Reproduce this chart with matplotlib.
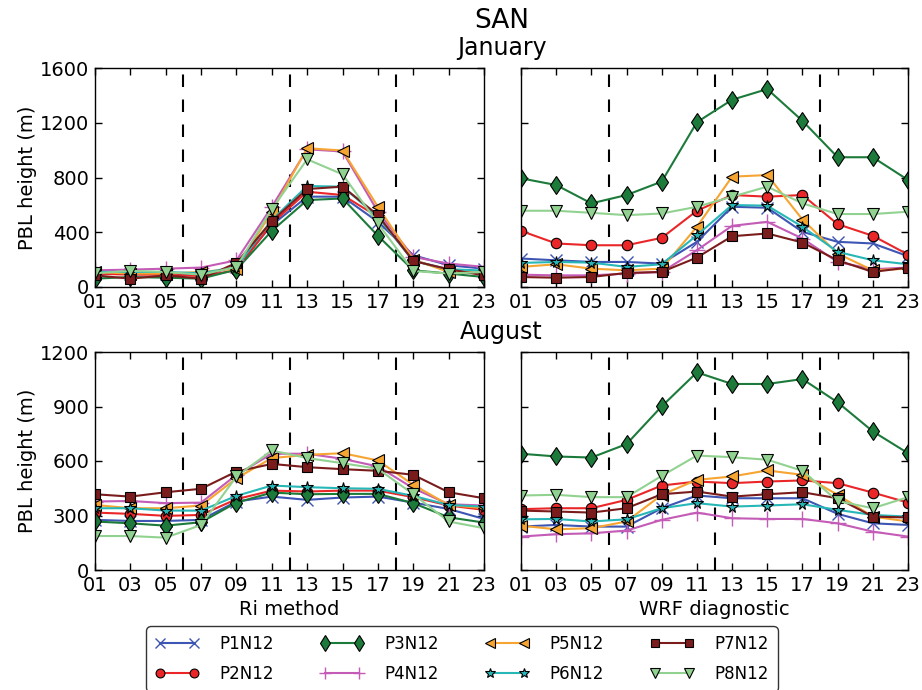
import matplotlib
matplotlib.use("Agg")
import matplotlib.pyplot as plt

hours = [1, 3, 5, 7, 9, 11, 13, 15, 17, 19, 21, 23]
hour_labels = ["01", "03", "05", "07", "09", "11", "13", "15", "17", "19", "21", "23"]
series_names = ["P1N12", "P2N12", "P3N12", "P4N12", "P5N12", "P6N12", "P7N12", "P8N12"]

# January, Ri method
jan_ri = {
    "P1N12": [98, 98, 98, 90, 147, 452, 660, 660, 476, 232, 159, 134],
    "P2N12": [98, 90, 90, 80, 122, 464, 696, 672, 513, 195, 122, 98],
    "P3N12": [61, 73, 68, 61, 127, 410, 635, 647, 374, 122, 98, 73],
    "P4N12": [122, 127, 134, 142, 195, 586, 1006, 990, 550, 220, 171, 147],
    "P5N12": [110, 98, 98, 110, 134, 550, 1014, 997, 586, 200, 110, 103],
    "P6N12": [110, 110, 110, 100, 147, 489, 738, 733, 513, 190, 130, 120],
    "P7N12": [85, 61, 85, 61, 176, 481, 716, 733, 525, 190, 130, 85],
    "P8N12": [100, 118, 110, 90, 147, 570, 933, 823, 464, 117, 98, 110],
}
# January, WRF diagnostic
jan_wrf = {
    "P1N12": [208, 195, 183, 183, 171, 330, 586, 579, 403, 330, 318, 225],
    "P2N12": [410, 318, 305, 305, 359, 557, 672, 660, 672, 459, 374, 237],
    "P3N12": [794, 745, 611, 672, 770, 1204, 1368, 1446, 1214, 948, 948, 782],
    "P4N12": [90, 85, 85, 98, 110, 269, 447, 476, 354, 183, 130, 142],
    "P5N12": [147, 166, 134, 122, 134, 440, 806, 818, 493, 244, 122, 134],
    "P6N12": [176, 183, 178, 147, 166, 379, 599, 594, 440, 257, 195, 166],
    "P7N12": [73, 68, 73, 103, 110, 215, 371, 391, 325, 195, 110, 142],
    "P8N12": [557, 557, 542, 525, 537, 586, 660, 733, 611, 533, 533, 550],
}
# August, Ri method
aug_ri = {
    "P1N12": [276, 270, 270, 276, 377, 404, 386, 399, 404, 371, 336, 281],
    "P2N12": [316, 309, 298, 303, 390, 437, 432, 437, 437, 401, 355, 331],
    "P3N12": [267, 257, 244, 263, 371, 426, 417, 419, 419, 368, 290, 261],
    "P4N12": [377, 380, 368, 371, 524, 640, 640, 612, 570, 450, 362, 355],
    "P5N12": [358, 340, 340, 355, 505, 616, 634, 643, 603, 469, 358, 340],
    "P6N12": [340, 340, 327, 327, 408, 465, 456, 450, 447, 408, 358, 349],
    "P7N12": [417, 404, 428, 447, 542, 584, 566, 555, 546, 524, 428, 395],
    "P8N12": [187, 187, 178, 248, 515, 658, 616, 588, 557, 417, 267, 230],
}
# August, WRF diagnostic
aug_wrf = {
    "P1N12": [239, 248, 239, 239, 340, 410, 395, 395, 395, 309, 257, 248],
    "P2N12": [335, 340, 340, 386, 465, 487, 478, 487, 493, 478, 426, 371],
    "P3N12": [640, 625, 619, 693, 901, 1088, 1024, 1024, 1051, 923, 763, 643],
    "P4N12": [184, 197, 202, 217, 276, 316, 285, 281, 281, 257, 211, 184],
    "P5N12": [244, 224, 230, 267, 414, 496, 515, 548, 524, 414, 294, 267],
    "P6N12": [279, 281, 267, 279, 340, 368, 349, 355, 362, 331, 303, 294],
    "P7N12": [327, 322, 316, 340, 417, 432, 404, 417, 428, 395, 294, 289],
    "P8N12": [410, 414, 401, 401, 518, 630, 621, 607, 546, 380, 340, 401],
}

colors = {
    "P1N12": "#3d55b3", "P2N12": "#ea2628", "P3N12": "#1c7a3b", "P4N12": "#c45bb6",
    "P5N12": "#f6a432", "P6N12": "#27b7b7", "P7N12": "#7b1c1c", "P8N12": "#92d291",
}
markers = {
    "P1N12": "x", "P2N12": "o", "P3N12": "d", "P4N12": "+",
    "P5N12": "<", "P6N12": "*", "P7N12": "s", "P8N12": "v",
}
msizes = {
    "P1N12": 9, "P2N12": 7.5, "P3N12": 9.5, "P4N12": 11,
    "P5N12": 8.5, "P6N12": 8.5, "P7N12": 7.5, "P8N12": 8.5,
}

W, H = 922, 690
fig = plt.figure(figsize=(W / 100, H / 100), dpi=100)

def frac_axes(x0, x1, y0, y1):
    return fig.add_axes([x0 / W, 1 - y1 / H, (x1 - x0) / W, (y1 - y0) / H])

ax_tl = frac_axes(95, 484, 68, 287)
ax_tr = frac_axes(521, 908, 68, 287)
ax_bl = frac_axes(95, 484, 352, 570)
ax_br = frac_axes(521, 908, 352, 570)

panels = [
    (ax_tl, jan_ri, [0, 400, 800, 1200, 1600], True),
    (ax_tr, jan_wrf, [0, 400, 800, 1200, 1600], False),
    (ax_bl, aug_ri, [0, 300, 600, 900, 1200], True),
    (ax_br, aug_wrf, [0, 300, 600, 900, 1200], False),
]

handles = []
for ax, data, yticks, show_y in panels:
    hs = []
    for name in series_names:
        filled = markers[name] not in ("x", "+")
        (ln,) = ax.plot(
            hours, data[name], color=colors[name], marker=markers[name],
            markersize=msizes[name], linewidth=1.5,
            markeredgecolor="black" if filled else colors[name],
            markeredgewidth=0.8 if filled else 1.0, label=name,
        )
        hs.append(ln)
    if not handles:
        handles = hs
    for xv in (6, 12, 18):
        ax.axvline(xv, color="black", linewidth=1.5, dashes=(6, 6), zorder=0)
    ax.set_xlim(1, 23)
    ax.set_ylim(yticks[0], yticks[-1])
    ax.set_xticks(hours)
    ax.set_xticklabels(hour_labels)
    ax.set_yticks(yticks)
    ax.tick_params(direction="in", top=True, right=True, length=5, width=1,
                   labelsize=14, pad=4)
    if show_y:
        ax.set_ylabel("PBL height (m)", fontsize=14, labelpad=2)
    else:
        ax.set_yticklabels([])
    for s in ax.spines.values():
        s.set_linewidth(1.0)

ax_bl.set_xlabel("Ri method", fontsize=14)
ax_br.set_xlabel("WRF diagnostic", fontsize=14)

cx = (95 + 908) / 2 / W
fig.text(cx, 1 - 21 / H, "SAN", ha="center", va="center", fontsize=19)
fig.text(cx, 1 - 48 / H, "January", ha="center", va="center", fontsize=17)
fig.text(cx, 1 - 332 / H, "August", ha="center", va="center", fontsize=17)

leg = fig.legend(handles, series_names, loc="upper center",
                 bbox_to_anchor=(462 / W, 1 - 626 / H), borderaxespad=0.0,
                 ncol=4, numpoints=2, fontsize=12, handlelength=2.64,
                 columnspacing=2.74, handletextpad=1.25, labelspacing=0.72,
                 frameon=True, fancybox=True, borderpad=0.55, markerscale=0.85)
leg.get_frame().set_edgecolor("black")
leg.get_frame().set_linewidth(1.0)
leg.get_frame().set_boxstyle("round", pad=0.0, rounding_size=0.3)

fig.savefig("out.png", dpi=100)
